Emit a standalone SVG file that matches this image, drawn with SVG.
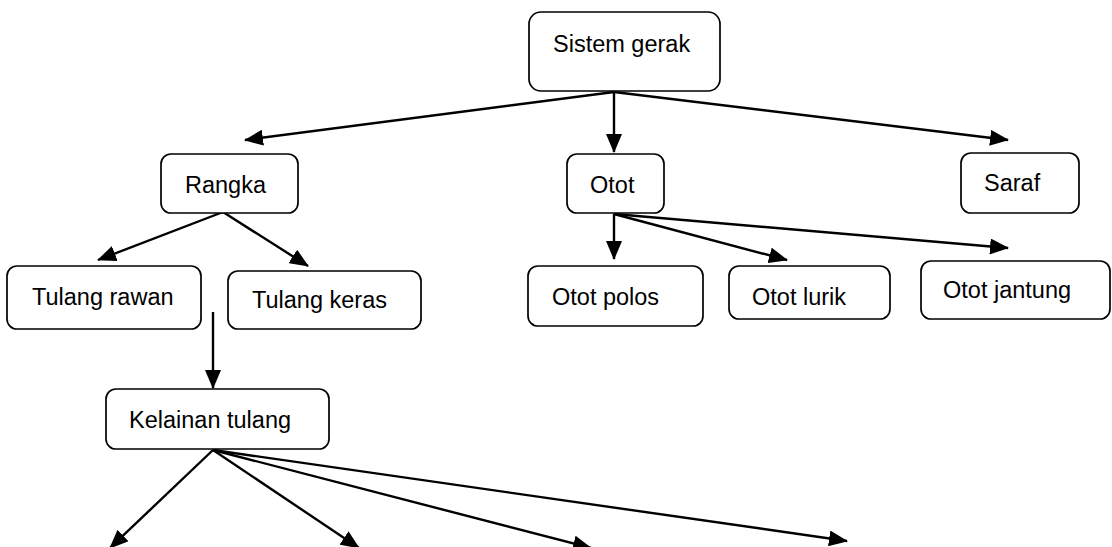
<svg xmlns="http://www.w3.org/2000/svg" width="1112" height="547" viewBox="0 0 1112 547">
<style>
.box{fill:#fff;stroke:#000;stroke-width:1.7}
.lbl{font-family:"Liberation Sans",Arial,sans-serif;font-size:23.5px;fill:#000}
.con{stroke:#000;stroke-width:2.4;fill:none}
</style>
<defs>
<marker id="ah" markerUnits="userSpaceOnUse" markerWidth="19" markerHeight="16" refX="18" refY="8" orient="auto">
<path d="M0,0 L19,8 L0,16 z" fill="#000"/>
</marker>
</defs>
<rect width="1112" height="547" fill="#fff"/>
<g id="connectors">
<line class="con" x1="614" y1="92" x2="245" y2="140" marker-end="url(#ah)"/>
<line class="con" x1="614" y1="92" x2="614" y2="152" marker-end="url(#ah)"/>
<line class="con" x1="614" y1="92" x2="1008" y2="140" marker-end="url(#ah)"/>
<line class="con" x1="223" y1="212" x2="98" y2="260" marker-end="url(#ah)"/>
<line class="con" x1="223" y1="212" x2="308" y2="266" marker-end="url(#ah)"/>
<line class="con" x1="213" y1="312" x2="213" y2="388" marker-end="url(#ah)"/>
<line class="con" x1="614" y1="214" x2="614" y2="259" marker-end="url(#ah)"/>
<line class="con" x1="614" y1="214" x2="787" y2="260" marker-end="url(#ah)"/>
<line class="con" x1="614" y1="214" x2="1008" y2="248" marker-end="url(#ah)"/>
<line class="con" x1="213" y1="450" x2="110" y2="548" marker-end="url(#ah)"/>
<line class="con" x1="213" y1="450" x2="359" y2="548" marker-end="url(#ah)"/>
<line class="con" x1="213" y1="450" x2="591" y2="548" marker-end="url(#ah)"/>
<line class="con" x1="213" y1="450" x2="847" y2="541" marker-end="url(#ah)"/>
</g>
<g id="sistem-gerak"><rect class="box" x="529" y="12" width="191" height="79" rx="12"/><text class="lbl" x="553" y="52">Sistem gerak</text></g>
<g id="rangka"><rect class="box" x="161" y="154" width="137" height="59" rx="10"/><text class="lbl" x="185" y="193">Rangka</text></g>
<g id="otot"><rect class="box" x="567" y="154" width="97" height="59" rx="10"/><text class="lbl" x="590" y="193">Otot</text></g>
<g id="saraf"><rect class="box" x="961" y="153" width="118" height="60" rx="10"/><text class="lbl" x="984" y="191">Saraf</text></g>
<g id="tulang-rawan"><rect class="box" x="7" y="266" width="194" height="63" rx="10"/><text class="lbl" x="32" y="305">Tulang rawan</text></g>
<g id="tulang-keras"><rect class="box" x="228" y="271" width="193" height="58" rx="10"/><text class="lbl" x="252" y="308">Tulang keras</text></g>
<g id="otot-polos"><rect class="box" x="528" y="266" width="175" height="60" rx="10"/><text class="lbl" x="552" y="305">Otot polos</text></g>
<g id="otot-lurik"><rect class="box" x="729" y="266" width="161" height="53" rx="10"/><text class="lbl" x="752" y="305">Otot lurik</text></g>
<g id="otot-jantung"><rect class="box" x="921" y="261" width="189" height="58" rx="10"/><text class="lbl" x="943" y="298">Otot jantung</text></g>
<g id="kelainan-tulang"><rect class="box" x="106" y="389" width="223" height="60" rx="10"/><text class="lbl" x="129" y="428">Kelainan tulang</text></g>
</svg>
